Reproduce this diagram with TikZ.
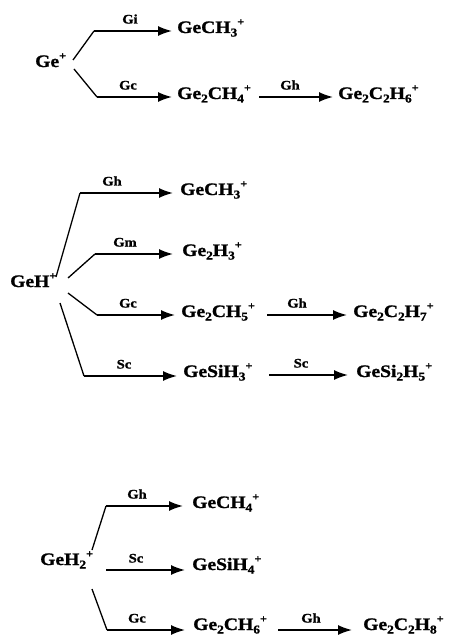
\documentclass[tikz,border=0pt]{standalone}
\usepackage{fontspec}
\setmainfont{Liberation Serif}[FakeStretch=1.12, BoldFeatures={FakeBold=1.2}]
\usetikzlibrary{arrows.meta,calc}

% chemical sub- and superscripts
\newcommand\chsub[1]{\raisebox{-3.5pt}{\fontsize{12}{12}\selectfont #1}}
\newcommand\chsup[1]{\raisebox{7.5pt}{\fontsize{11}{11}\selectfont #1}}

\tikzset{
  chem/.style={anchor=base west, inner sep=0pt, font=\fontsize{17.5}{20}\selectfont\bfseries},
  rlabel/.style={anchor=base, inner sep=0pt, font=\fontsize{13}{15}\selectfont\bfseries},
  arr/.style={line width=1.6pt, -{Latex[length=14pt,width=10pt]}},
  branch/.style={line width=1.3pt}
}

\begin{document}
\begin{tikzpicture}[x=1pt,y=-1pt]
\useasboundingbox (0,0) rectangle (453,636);

% ---------- Ge+ ----------
\node[chem] (ge)  at (35,67)  {Ge\chsup{+}};
\node[chem] (t1)  at (177,33) {GeCH\chsub{3}\chsup{+}};
\node[chem] (t2)  at (177,99) {Ge\chsub{2}CH\chsub{4}\chsup{+}};
\node[chem] (t3)  at (338,99) {Ge\chsub{2}C\chsub{2}H\chsub{6}\chsup{+}};

\draw[branch] ($(ge.base west)+(38,-7)$) -- (94,31);
\draw[arr] (94,31) -- ($(t1.base west)+(-5,-2)$);
\draw[branch] ($(ge.base west)+(39,2)$) -- (97,97);
\draw[arr] (97,97) -- ($(t2.base west)+(-5,-2)$);
\draw[arr] ($(t2.base west)+(82,-2)$) -- ($(t3.base west)+(-5,-2)$);

\node[rlabel] (l1) at (130,23.5) {Gi};
\node[rlabel] (l2) at (128,89.5) {Gc};
\node[rlabel] (l3) at (290,89.5) {Gh};

% ---------- GeH+ ----------
\node[chem] (gh) at (10,287)  {GeH\chsup{+}};
\node[chem] (a1) at (180,195) {GeCH\chsub{3}\chsup{+}};
\node[chem] (a2) at (182,256) {Ge\chsub{2}H\chsub{3}\chsup{+}};
\node[chem] (a3) at (181,317) {Ge\chsub{2}CH\chsub{5}\chsup{+}};
\node[chem] (a4) at (353,317) {Ge\chsub{2}C\chsub{2}H\chsub{7}\chsup{+}};
\node[chem] (a5) at (183,377) {GeSiH\chsub{3}\chsup{+}};
\node[chem] (a6) at (356,377) {GeSi\chsub{2}H\chsub{5}\chsup{+}};

\draw[branch] ($(gh.base west)+(46,-10)$) -- (80,193);
\draw[arr] (80,193) -- ($(a1.base west)+(-7,-2)$);
\draw[branch] ($(gh.base west)+(58,-9)$) -- (95,254);
\draw[arr] (95,254) -- ($(a2.base west)+(-9,-2)$);
\draw[branch] ($(gh.base west)+(58,6)$) -- (97,315);
\draw[arr] (97,315) -- ($(a3.base west)+(-6,-2)$);
\draw[branch] ($(gh.base west)+(50,16)$) -- (84,376);
\draw[arr] (84,376) -- ($(a5.base west)+(-6,-1)$);
\draw[arr] ($(a3.base west)+(86,-2)$) -- ($(a4.base west)+(-6,-2)$);
\draw[arr] ($(a5.base west)+(86,-2)$) -- ($(a6.base west)+(-8,-2)$);

\node[rlabel] (m1) at (112,185.5) {Gh};
\node[rlabel] (m2) at (125,246.5) {Gm};
\node[rlabel] (m3) at (128,307.5) {Gc};
\node[rlabel] (m4) at (297,307.5) {Gh};
\node[rlabel] (m5) at (124,368.5) {Sc};
\node[rlabel] (m6) at (301,367.5) {Sc};

% ---------- GeH2+ ----------
\node[chem] (g2) at (40,565)  {GeH\chsub{2}\chsup{+}};
\node[chem] (b1) at (192,508) {GeCH\chsub{4}\chsup{+}};
\node[chem] (b2) at (192,570) {GeSiH\chsub{4}\chsup{+}};
\node[chem] (b3) at (193,630) {Ge\chsub{2}CH\chsub{6}\chsup{+}};
\node[chem] (b4) at (363,630) {Ge\chsub{2}C\chsub{2}H\chsub{8}\chsup{+}};

\draw[branch] ($(g2.base west)+(52,-15)$) -- (106,506);
\draw[arr] (106,506) -- ($(b1.base west)+(-9,-2)$);
\draw[arr] ($(g2.base west)+(66,5)$) -- ($(b2.base west)+(-7,0)$);
\draw[branch] ($(g2.base west)+(52,24)$) -- (107,630);
\draw[arr] (107,630) -- ($(b3.base west)+(-8,0)$);
\draw[arr] ($(b3.base west)+(85,0)$) -- ($(b4.base west)+(-11,0)$);

\node[rlabel] (n1) at (137,498.5) {Gh};
\node[rlabel] (n2) at (136,562.5) {Sc};
\node[rlabel] (n3) at (137,622.5) {Gc};
\node[rlabel] (n4) at (311,622.5) {Gh};
\end{tikzpicture}
\end{document}
